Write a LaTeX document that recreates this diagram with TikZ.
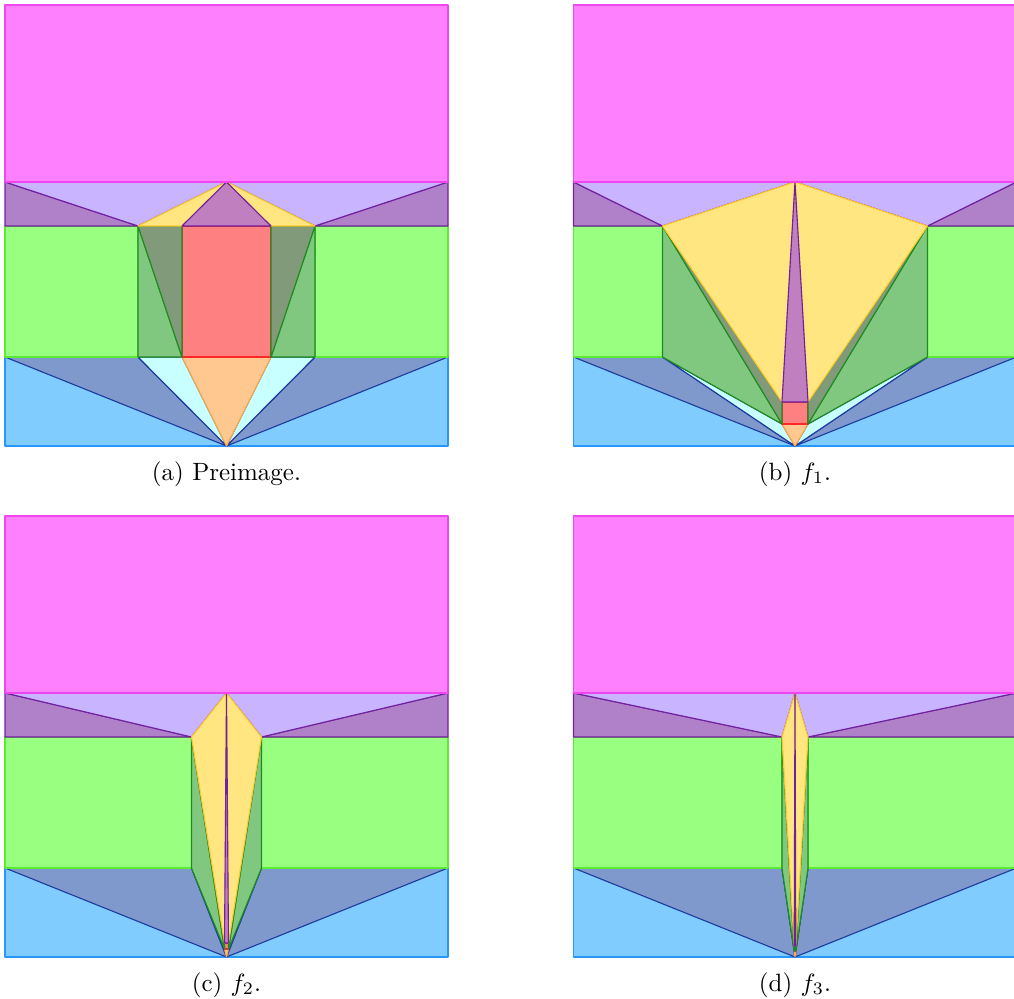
\documentclass[tikz,border=0pt]{standalone}
\usepackage{amsmath, amssymb}
\usepackage{tikz}
\definecolor{magFill}{RGB}{255, 128, 255}
\definecolor{magLine}{RGB}{240, 70, 240}
\definecolor{lavFill}{RGB}{200, 180, 255}
\definecolor{dpurFill}{RGB}{176, 128, 200}
\definecolor{purLine}{RGB}{112, 32, 160}
\definecolor{yelFill}{RGB}{255, 230, 128}
\definecolor{yelLine}{RGB}{255, 200, 50}
\definecolor{mauFill}{RGB}{192, 128, 192}
\definecolor{lgreenFill}{RGB}{153, 255, 128}
\definecolor{lgreenLine}{RGB}{90, 235, 50}
\definecolor{mgreenFill}{RGB}{128, 200, 128}
\definecolor{ggreenFill}{RGB}{128, 154, 122}
\definecolor{greenLine}{RGB}{30, 140, 30}
\definecolor{redFill}{RGB}{255, 128, 128}
\definecolor{redLine}{RGB}{255, 40, 40}
\definecolor{lblueFill}{RGB}{128, 204, 255}
\definecolor{lblueLine}{RGB}{40, 150, 255}
\definecolor{sblueFill}{RGB}{128, 153, 204}
\definecolor{blueLine}{RGB}{30, 60, 160}
\definecolor{cyanFill}{RGB}{200, 255, 255}
\definecolor{oraFill}{RGB}{255, 200, 144}
\definecolor{oraLine}{RGB}{255, 170, 70}
\tikzset{cell/.style={line width=0.45pt, line join=round}}

\begin{document}
\begin{tikzpicture}[x=0.4pt, y=0.4pt]
  \useasboundingbox (0,0) rectangle (1014,999);
  \clip (0,0) rectangle (1014,999);

  % centre x / bottom y / inner edge / fold point x, y / lower fold y / caption
  \foreach \cx/\oy/\ax/\bx/\py/\qy/\lab in {
      226.5/553/88.5/44.5/220/89/{(a)~Preimage.},
      795/553/132.5/13/44/22/{(b)~$f_1$.},
      226.5/42/35/2/14/8/{(c)~$f_2$.},
      795/42/13/0.8/11/6/{(d)~$f_3$.}}
  {
    \begin{scope}[shift={(\cx,\oy)}]
      % Apexes and the moving corners, left and right
      \coordinate (O) at (0,0);
      \coordinate (T) at (0,264);
      \foreach \n/\s in {l/-1, r/1} {
        \coordinate (E\n) at (\s*221.5,89);
        \coordinate (F\n) at (\s*221.5,220);
        \coordinate (G\n) at (\s*221.5,264);
        \coordinate (A\n) at (\s*\ax,220);
        \coordinate (B\n) at (\s*\bx,\py);
        \coordinate (C\n) at (\s*\bx,\qy);
        \coordinate (D\n) at (\s*\ax,89);
      }

      % Blue band
      \draw[cell, fill=lblueFill, draw=lblueLine] (-221.5,0) rectangle (221.5,89);
      \foreach \n in {l,r} {
        \draw[cell, fill=sblueFill, draw=blueLine] (E\n) -- (D\n) -- (O) -- cycle;
        \draw[cell, fill=cyanFill, draw=blueLine] (D\n) -- (C\n) -- (O) -- cycle;
      }
      \draw[cell, fill=oraFill, draw=oraLine] (Cl) -- (Cr) -- (O) -- cycle;

      % Green band
      \draw[cell, fill=redFill, draw=redLine] (Bl) -- (Br) -- (Cr) -- (Cl) -- cycle;
      \foreach \n in {l,r} {
        \draw[cell, fill=lgreenFill, draw=lgreenLine] (E\n) rectangle (A\n);
        \draw[cell, fill=mgreenFill, draw=greenLine] (A\n) -- (D\n) -- (C\n) -- cycle;
        \draw[cell, fill=ggreenFill, draw=greenLine] (A\n) -- (B\n) -- (C\n) -- cycle;
      }

      % Purple band
      \foreach \n in {l,r} {
        \draw[cell, fill=dpurFill, draw=purLine] (G\n) -- (F\n) -- (A\n) -- cycle;
        \draw[cell, fill=lavFill, draw=purLine] (G\n) -- (A\n) -- (T) -- cycle;
        \draw[cell, fill=yelFill, draw=yelLine] (A\n) -- (T) -- (B\n) -- cycle;
      }
      \draw[cell, fill=mauFill, draw=purLine] (Bl) -- (T) -- (Br) -- cycle;

      % Top block
      \draw[cell, fill=magFill, draw=magLine] (Gl) rectangle (221.5,441);

      \node (cap) at (0,-28) {\lab};
    \end{scope}
  }
\end{tikzpicture}
\end{document}
